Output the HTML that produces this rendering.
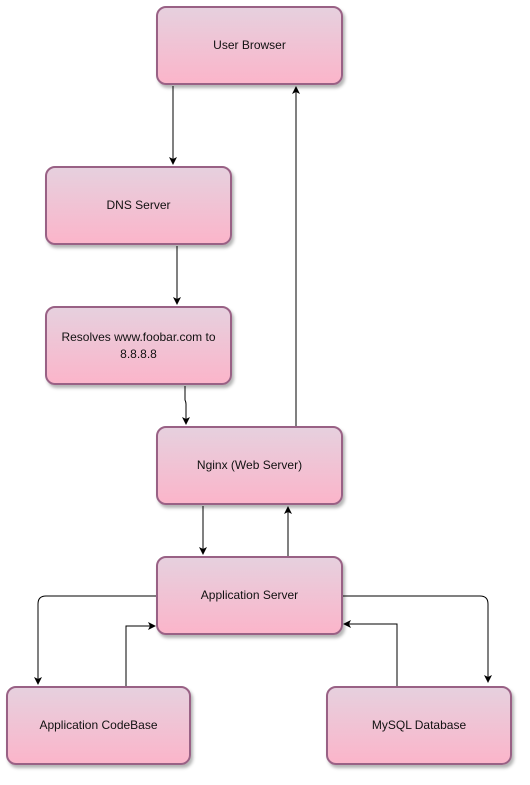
<!DOCTYPE html>
<html><head><style>
body{margin:0;width:530px;height:785px;background:#fff;position:relative;font-family:"Comic Sans MS","Liberation Sans",sans-serif;}
.n{position:absolute;box-sizing:border-box;border:2px solid #996185;border-radius:10px;background:linear-gradient(#e6d0de,#fbb5ca);box-shadow:2px 3px 3px rgba(0,0,0,0.3);display:flex;align-items:center;justify-content:center;text-align:center;font-size:12px;color:#111;padding:0 10px;line-height:17px}
svg{position:absolute;left:0;top:0}
</style></head><body>
<svg width="530" height="785">
<defs><marker id="a" markerWidth="8" markerHeight="8" refX="7" refY="4" orient="auto" markerUnits="userSpaceOnUse"><path d="M0,0 L8,4 L0,8 L2,4z" fill="#000"/></marker></defs>
<g stroke="#000" stroke-width="1" fill="none" marker-end="url(#a)">
<path d="M173,86 V164"/>
<path d="M177,246 V304"/>
<path d="M185,386 V400 Q186,402 186,404 V424"/>
<path d="M296,426 V87"/>
<path d="M203,506 V554"/>
<path d="M288,556 V507"/>
<path d="M156,596 H46 Q38,596 38,604 V684"/>
<path d="M126,686 V626 H155"/>
<path d="M343,596 H480 Q488,596 488,604 V682"/>
<path d="M397,686 V624 H344"/>
</g></svg>
<div class="n" style="left:156px;top:6px;width:187px;height:79px">User Browser</div>
<div class="n" style="left:45px;top:166px;width:187px;height:79px">DNS Server</div>
<div class="n" style="left:45px;top:306px;width:187px;height:79px">Resolves www.foobar.com to 8.8.8.8</div>
<div class="n" style="left:156px;top:426px;width:187px;height:79px">Nginx (Web Server)</div>
<div class="n" style="left:156px;top:556px;width:187px;height:79px">Application Server</div>
<div class="n" style="left:6px;top:686px;width:185px;height:79px">Application CodeBase</div>
<div class="n" style="left:326px;top:686px;width:186px;height:79px">MySQL Database</div>
</body></html>
